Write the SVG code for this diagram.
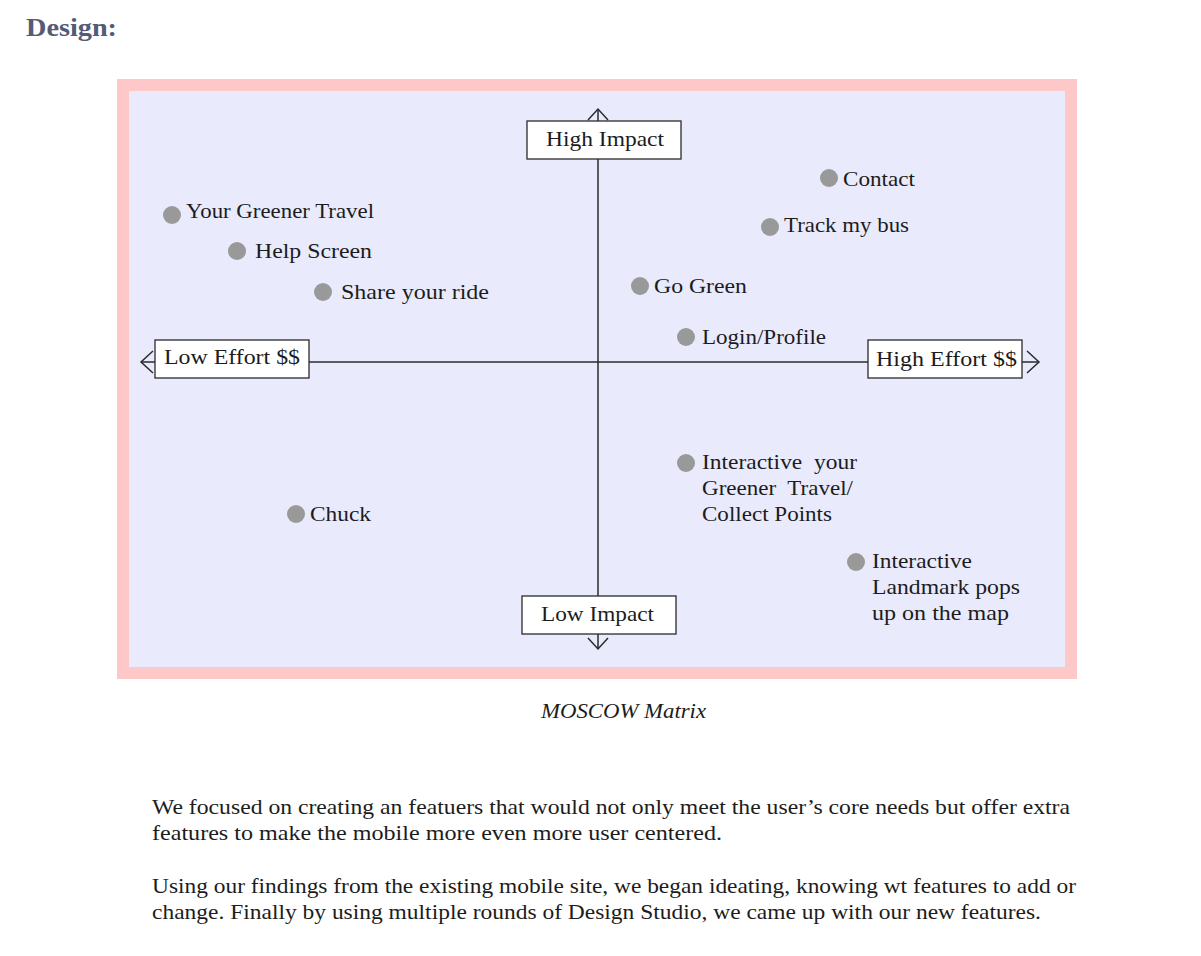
<svg xmlns="http://www.w3.org/2000/svg" width="1201" height="956" viewBox="0 0 1201 956" font-family="'Liberation Serif', 'DejaVu Serif', serif">
<style>
text{font-family:'Liberation Serif','DejaVu Serif',serif;fill:#1c1c1c;font-size:21px}
.dot{fill:#999999}
.box{fill:#ffffff;stroke:#2a2a2a;stroke-width:1.3}
.ax{stroke:#2a2a2a;stroke-width:1.5;fill:none}
</style>
<rect width="1201" height="956" fill="#ffffff"/>
<text x="26" y="36" style="font-size:26px;font-weight:bold;fill:#555a75" textLength="91" lengthAdjust="spacingAndGlyphs">Design:</text>
<rect x="117" y="79" width="960" height="600" fill="#ffc8c8"/>
<rect x="129" y="91" width="936" height="576" fill="#e9ebfd"/>
<g id="connectors">
<line class="ax" x1="598" y1="109" x2="598" y2="649"/>
<line class="ax" x1="141" y1="362" x2="1039" y2="362"/>
<polyline class="ax" points="588,120 598,109 608,120"/>
<polyline class="ax" points="588,638 598,649 608,638"/>
<polyline class="ax" points="153,351 141,362 153,373"/>
<polyline class="ax" points="1027,351 1039,362 1027,373"/>
</g>
<g id="high-impact"><rect class="box" x="527" y="121" width="154" height="38"/><text x="546" y="146" textLength="118" lengthAdjust="spacingAndGlyphs">High Impact</text></g>
<g id="low-impact"><rect class="box" x="522" y="596" width="154" height="38"/><text x="541" y="621" textLength="113" lengthAdjust="spacingAndGlyphs">Low Impact</text></g>
<g id="low-effort"><rect class="box" x="155" y="340" width="154" height="38"/><text x="164" y="364" textLength="136" lengthAdjust="spacingAndGlyphs">Low Effort $$</text></g>
<g id="high-effort"><rect class="box" x="868" y="340" width="154" height="38"/><text x="876" y="366" textLength="141" lengthAdjust="spacingAndGlyphs">High Effort $$</text></g>
<g id="your-greener-travel"><circle class="dot" cx="172" cy="215" r="9"/><text x="186" y="218" textLength="188" lengthAdjust="spacingAndGlyphs">Your Greener Travel</text></g>
<g id="help-screen"><circle class="dot" cx="237" cy="251" r="9"/><text x="255" y="258" textLength="117" lengthAdjust="spacingAndGlyphs">Help Screen</text></g>
<g id="share-your-ride"><circle class="dot" cx="323" cy="292" r="9"/><text x="341" y="299" textLength="148" lengthAdjust="spacingAndGlyphs">Share your ride</text></g>
<g id="contact"><circle class="dot" cx="829" cy="178" r="9"/><text x="843" y="186" textLength="72" lengthAdjust="spacingAndGlyphs">Contact</text></g>
<g id="track-my-bus"><circle class="dot" cx="770" cy="227" r="9"/><text x="784" y="232" textLength="125" lengthAdjust="spacingAndGlyphs">Track my bus</text></g>
<g id="go-green"><circle class="dot" cx="640" cy="286" r="9"/><text x="654" y="293" textLength="93" lengthAdjust="spacingAndGlyphs">Go Green</text></g>
<g id="login-profile"><circle class="dot" cx="686" cy="337" r="9"/><text x="702" y="344" textLength="124" lengthAdjust="spacingAndGlyphs">Login/Profile</text></g>
<g id="interactive-greener"><circle class="dot" cx="686" cy="463" r="9"/>
<text x="702" y="469" textLength="155" lengthAdjust="spacingAndGlyphs" xml:space="preserve">Interactive  your</text>
<text x="702" y="495" textLength="151" lengthAdjust="spacingAndGlyphs" xml:space="preserve">Greener  Travel/</text>
<text x="702" y="521" textLength="130" lengthAdjust="spacingAndGlyphs">Collect Points</text></g>
<g id="interactive-landmark"><circle class="dot" cx="856" cy="562" r="9"/>
<text x="872" y="568" textLength="100" lengthAdjust="spacingAndGlyphs">Interactive</text>
<text x="872" y="594" textLength="148" lengthAdjust="spacingAndGlyphs">Landmark pops</text>
<text x="872" y="620" textLength="137" lengthAdjust="spacingAndGlyphs">up on the map</text></g>
<g id="chuck"><circle class="dot" cx="296" cy="514" r="9"/><text x="310" y="521" textLength="61" lengthAdjust="spacingAndGlyphs">Chuck</text></g>
<text x="541" y="718" style="font-style:italic" textLength="165" lengthAdjust="spacingAndGlyphs">MOSCOW Matrix</text>
<text x="152" y="814" textLength="918" lengthAdjust="spacingAndGlyphs">We focused on creating an featuers that would not only meet the user’s core needs but offer extra</text>
<text x="152" y="840" textLength="570" lengthAdjust="spacingAndGlyphs">features to make the mobile more even more user centered.</text>
<text x="152" y="893" textLength="924" lengthAdjust="spacingAndGlyphs">Using our findings from the existing mobile site, we began ideating, knowing wt features to add or</text>
<text x="152" y="919" textLength="889" lengthAdjust="spacingAndGlyphs">change. Finally by using multiple rounds of Design Studio, we came up with our new features.</text>
</svg>
